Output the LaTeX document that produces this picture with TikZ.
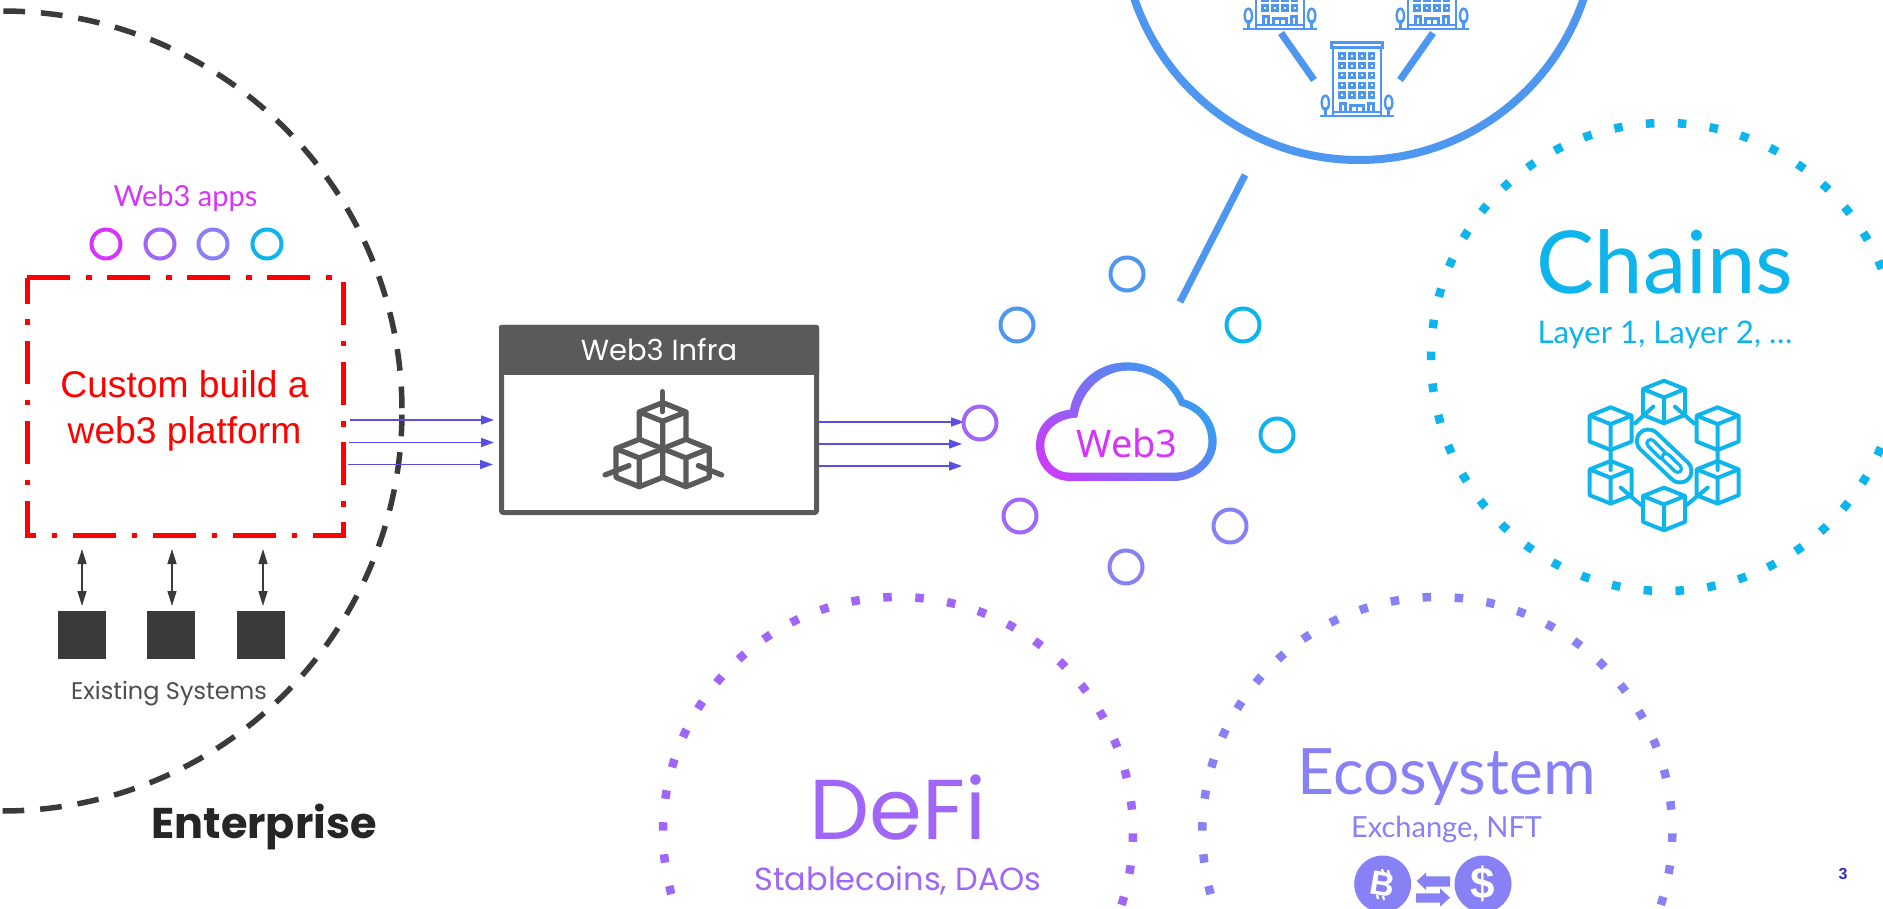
\documentclass[tikz,border=0pt]{standalone}
\usepackage{fontspec}
\setmainfont{Liberation Sans}
\newfontfamily\lato{Lato}
\newfontfamily\pop{Poppins}
\newfontfamily\noto{Noto Sans}
\usetikzlibrary{arrows.meta}
\definecolor{cmag}{HTML}{D633FF}
\definecolor{cpur}{HTML}{A066F8}
\definecolor{cvio}{HTML}{8880F5}
\definecolor{ccya}{HTML}{0DB5EC}
\definecolor{cblu}{HTML}{4D97F0}
\definecolor{cdark}{HTML}{3A3A3A}
\definecolor{cbox}{HTML}{5A5A5A}
\definecolor{carr}{HTML}{5B4DE8}
\newcommand{\fs}[1]{\fontsize{#1}{#1}\selectfont}
\tikzset{
  ring/.style={circle,draw=#1,line width=4pt,inner sep=0pt,minimum size=29pt},
  bigring/.style={circle,draw=#1,line width=4pt,inner sep=0pt,minimum size=33pt},
  label/.style={anchor=base,inner sep=0pt},
  flow/.style={draw=carr,line width=1.6pt,-{Triangle[length=13pt,width=9pt]}},
  bothway/.style={draw=cdark,line width=1.5pt,{Triangle[length=15pt,width=9pt]}-{Triangle[length=15pt,width=9pt]}},
  sysbox/.style={fill=cdark,minimum size=48pt,inner sep=0pt},
  spoke/.style={draw=cblu,line width=7pt},
  dotcircle/.style={draw=#1,line width=8.5pt},
  pics/isocube/.style={code={
    \draw[pic actions] (0,0)--(-1,.4)--(-1,1.63)--(0,2.03)--(1,1.63)--(1,.4)--cycle;
    \draw[pic actions] (-1,.4)--(0,.8)--(1,.4) (0,.8)--(0,2.03);
  }},
  pics/building/.style={code={
    \draw[pic actions,line width=2.8pt] (-112,0)--(112,0);
    \draw[pic actions] (-72,0)--(-72,-205)--(72,-205)--(72,0);
    \draw[pic actions] (-77,-220) rectangle (77,-205);
    \foreach \wx in {-45,-15,15,44} \foreach \wy in {-180,-151,-122,-92,-63}
      \draw[pic actions] (\wx-7,\wy-7) rectangle (\wx+7,\wy+7);
    \draw[pic actions] (-72,-12)--(72,-12);
    \draw[pic actions] (-50,-12)--(-50,-38)--(-35,-38)--(-35,-12);
    \draw[pic actions] (-20,-12)--(-20,-32)--(20,-32)--(20,-12) (0,-32)--(0,-12);
    \draw[pic actions] (35,-12)--(35,-38)--(50,-38)--(50,-12);
    \foreach \sg in {-1,1}{
      \draw[pic actions] (\sg*95,-40) ellipse [x radius=11,y radius=21];
      \draw[pic actions] (\sg*95,-28)--(\sg*95,0);
    }
  }}
}
\begin{document}
\begin{tikzpicture}[x=1pt,y=-1pt,line join=miter]
\clip (0,0) rectangle (1883,909);
\fill[white] (0,0) rectangle (1883,909);

% Enterprise boundary
\coordinate (entc) at (2,411);
\draw[draw=cdark,line width=5.5pt,dash pattern=on 21.7pt off 15.96pt,dash phase=34.9pt] (entc) circle[radius=400pt];

% Dotted circles
\coordinate (chainc) at (1665,357);
\coordinate (defic) at (898,832);
\coordinate (ecoc) at (1437.3,832);
\draw[dotcircle=ccya,dash pattern=on 8.5pt off 23.46pt,dash phase=5.3pt] (chainc) circle[radius=234pt];
\draw[dotcircle=cpur,dash pattern=on 8.5pt off 23.6pt,dash phase=9.75pt] (defic) circle[radius=235pt];
\draw[dotcircle=cvio,dash pattern=on 8.5pt off 23.6pt,dash phase=9.75pt] (ecoc) circle[radius=235pt];

% Red box
\draw[draw=red,line width=5pt,dash pattern=on 43pt off 16pt on 5.5pt off 15.5pt,line cap=butt]
  (27,278)--(343,278)--(343,535)--(27,535)--cycle;
\node[label,text=red] (custom1) at (184.5,397) {\fs{37.2}Custom build a};
\node[label,text=red] (custom2) at (184.5,443) {\fs{37.2}web3 platform};

% Web3 apps
\node[label,text=cmag] (apps) at (185.5,207) {\lato\fs{29}Web3 apps};
\node[ring=cmag] (a1) at (106,244) {};
\node[ring=cpur] (a2) at (160,244) {};
\node[ring=cvio] (a3) at (213,244) {};
\node[ring=ccya] (a4) at (267,244) {};

% Existing systems
\node[sysbox] (s1) at (82,635) {};
\node[sysbox] (s2) at (171,635) {};
\node[sysbox] (s3) at (261,635) {};
\coordinate (r1) at (82,549);
\coordinate (r2) at (172,549);
\coordinate (r3) at (263,549);
\coordinate (q1) at (82,606);
\coordinate (q2) at (172,606);
\coordinate (q3) at (263,606);
\draw[bothway] (r1)--(q1);
\draw[bothway] (r2)--(q2);
\draw[bothway] (r3)--(q3);
\node[label,text=cdark!90] (exist) at (169,699) {\pop\fs{24}Existing Systems};
\node[label,text=black!85] (ent) at (264,838) {\pop\bfseries\fs{43}Enterprise};

% Infra box
\node[draw=cbox,line width=5pt,fill=white,rounded corners=2pt,minimum width=315pt,minimum height=185pt,inner sep=0pt] (infra) at (659,420) {};
\node[fill=cbox,text=white,minimum width=320pt,minimum height=50pt,inner sep=0pt,rounded corners=2pt] (head) at (659,350) {\pop\fs{29}Web3 Infra};
\begin{scope}[shift={(480,310)},x=.3333pt,y=-.3333pt,line width=5.3pt,line cap=round,line join=round,draw=cbox]
  \pic[draw=cbox,scale=70] at (548,278) {isocube};
  \pic[draw=cbox,scale=70,fill=white] at (478,388) {isocube};
  \pic[draw=cbox,scale=70,fill=white] at (618,388) {isocube};
  \draw[cbox] (547,245)--(547,305);
  \draw[cbox] (375,495)--(447,467);
  \draw[cbox] (725,495)--(655,467);
\end{scope}

% Flows
\coordinate (fa1) at (350,420); \coordinate (fb1) at (494,420);
\coordinate (fa2) at (349,442.5); \coordinate (fb2) at (494,442.5);
\coordinate (fa3) at (348,464.5); \coordinate (fb3) at (493,464.5);
\draw[flow] (fa1)--(fb1);
\draw[flow] (fa2)--(fb2);
\draw[flow] (fa3)--(fb3);
\coordinate (ga1) at (819,422); \coordinate (gb1) at (964,422);
\coordinate (ga2) at (819,444); \coordinate (gb2) at (962,444);
\coordinate (ga3) at (819,466); \coordinate (gb3) at (962,466);
\draw[flow] (ga1)--(gb1);
\draw[flow] (ga2)--(gb2);
\draw[flow] (ga3)--(gb3);

% Rings around the cloud
\node[bigring=cblu] (c1) at (1127,274) {};
\node[bigring=cblu] (c2) at (1017,325) {};
\node[bigring=ccya] (c3) at (1243,325) {};
\node[bigring=cpur] (c4) at (980,423) {};
\node[bigring=ccya] (c5) at (1277,435) {};
\node[bigring=cpur] (c6) at (1020,516) {};
\node[bigring=cvio] (c7) at (1230,526) {};
\node[bigring=cvio] (c8) at (1126,567) {};

% Cloud
\begin{scope}[shift={(1000,340)},x=.3333pt,y=-.3333pt]
  \begin{scope}
    \clip (210,423) .. controls (150,423) and (108,375) .. (108,315)
      .. controls (108,260) and (150,215) .. (210,209)
      .. controls (225,125) and (295,67) .. (380,67)
      .. controls (460,67) and (525,115) .. (553,178)
      .. controls (610,195) and (650,245) .. (650,305)
      .. controls (650,370) and (590,423) .. (520,423) -- cycle;
    \shade[bottom color=cmag!90!cblu,middle color=cvio,top color=ccya!70!cblu,shading angle=-50] (60,30) rectangle (700,460);
    \fill[white] (232,233) .. controls (245,150) and (310,92) .. (385,92)
      .. controls (455,92) and (515,135) .. (538,197)
      .. controls (590,210) and (625,250) .. (625,305)
      .. controls (625,355) and (580,398) .. (520,398) -- (210,398)
      .. controls (165,398) and (133,360) .. (133,315)
      .. controls (133,270) and (175,235) .. (232,233) -- cycle;
  \end{scope}
\end{scope}
\node[label,text=cmag] (web3) at (1127,457) {\noto\fs{38}Web3};

% Big blue circle
\coordinate (topc) at (1359,-77);
\draw[draw=cblu,line width=8pt] (topc) circle[radius=237pt];
\pic[draw=cblu,line width=2.4pt,scale=.3333] at (1357,116) {building};
\pic[draw=cblu,line width=2.4pt,scale=.3333] at (1280,29) {building};
\pic[draw=cblu,line width=2.4pt,scale=.3333] at (1432,29) {building};
\coordinate (l1a) at (1281,33); \coordinate (l1b) at (1314,80);
\coordinate (l2a) at (1433,33); \coordinate (l2b) at (1400,80);
\coordinate (l3a) at (1245,175); \coordinate (l3b) at (1180,302);
\draw[spoke] (l1a)--(l1b);
\draw[spoke] (l2a)--(l2b);
\draw[spoke] (l3a)--(l3b);

% Chains
\node[label,text=ccya] (chains) at (1665,294) {\lato\fs{86.8}Chains};
\node[label,text=ccya] (layers) at (1665,343.5) {\lato\fs{31.2}Layer 1, Layer 2, \dots};
\begin{scope}[shift={(1540,360)},x=.3333pt,y=-.3333pt]
  \foreach \cx/\cy in {372/62,212/142,533/142,212/303,533/303,372/383}
    \pic[draw=ccya,line width=4pt,line join=round,scale=63] at (\cx,\cy) {isocube};
  \draw[draw=ccya,line width=4pt,line cap=round]
    (285,190)--(340,140) (405,140)--(462,190)
    (212,270)--(212,330) (533,270)--(533,330)
    (242,383)--(303,435) (503,383)--(440,435);
  \draw[draw=ccya,line width=4pt,double=white,double distance=19pt,line cap=round] (325,243)--(420,333);
  \draw[draw=ccya,line width=3.5pt,double=white,double distance=4pt,line cap=round] (332,250)--(368,286);
  \draw[draw=ccya,line width=3.5pt,double=white,double distance=4pt,line cap=round] (378,292)--(413,326);
\end{scope}

% DeFi
\node[label,text=cpur] (defi) at (898,839) {\pop\fs{85}DeFi};
\node[label,text=cpur] (stable) at (898,890) {\pop\fs{32}Stablecoins, DAOs};

% Ecosystem
\node[label,text=cvio] (eco) at (1446.7,794) {\lato\fs{64}Ecosystem};
\node[label,text=cvio] (exch) at (1446.5,837) {\lato\fs{29}Exchange, NFT};
\node[circle,fill=cvio,minimum size=57pt,inner sep=0pt,text=white] (btc) at (1382.7,884) {\rotatebox{-10}{\bfseries\fs{34}B}};
\draw[white,line width=2.2pt] (1382,869)--(1383,873) (1388,870)--(1389,874) (1377,895)--(1378,899) (1383,896)--(1384,900);
\node[circle,fill=cvio,minimum size=57pt,inner sep=0pt,text=white] (usd) at (1483,884) {\bfseries\fs{44}\$};
\fill[cvio] (1416.7,881)--(1426,872.5)--(1426,876.3)--(1450,876.3)--(1450,886.7)--(1426,886.7)--(1426,890)--cycle;
\fill[cvio] (1450,897.7)--(1440,888.3)--(1440,893.3)--(1416,893.3)--(1416,902.7)--(1440,902.7)--(1440,906.7)--cycle;

% Page number
\node[label,text=carr!70!blue!80!black] (page) at (1843,879) {\bfseries\fs{16}3};
\end{tikzpicture}
\end{document}
